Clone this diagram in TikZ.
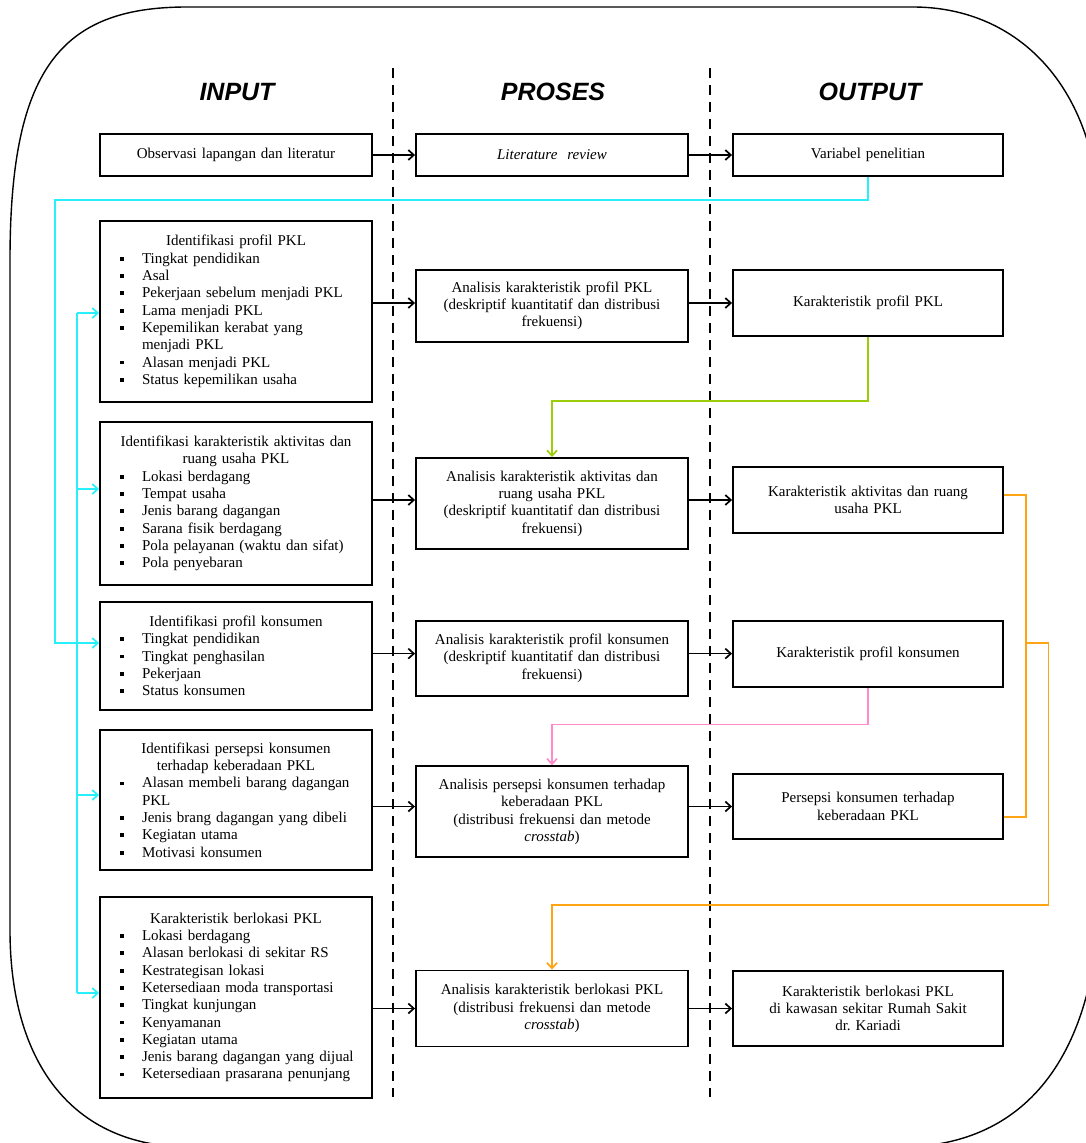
\documentclass[tikz,border=0pt]{standalone}
\usepackage{fontspec}
\setmainfont{Liberation Serif}
\newfontfamily\headfont{Liberation Sans}
\usepackage{xcolor}
\usepackage{tikz}
\usetikzlibrary{arrows.meta}
\definecolor{lineaqua}{RGB}{40,240,250}
\definecolor{linegreen}{RGB}{155,205,10}
\definecolor{linepink}{RGB}{255,140,200}
\definecolor{lineorange}{RGB}{255,165,20}
\newcommand{\itm}{\par\noindent\hangindent=36pt\hangafter=1\hspace*{14pt}\makebox[22pt][l]{\rule[2.6pt]{3.8pt}{3.8pt}}}
\newcommand{\boxtitle}[1]{{\centering #1\par}}

\begin{document}
\begin{tikzpicture}[x=1pt,y=-1pt,
  head/.style={font=\headfont\bfseries\itshape\fontsize{25}{30}\selectfont},
  inbox/.style={draw,line width=1.9pt,inner xsep=6pt,inner ysep=0pt,text width=260pt,
    font=\fontsize{15}{17.3}\selectfont,execute at begin node=\setlength{\baselineskip}{17.3pt}},
  midbox/.style={inbox,align=center},
  outbox/.style={midbox,text width=258pt},
  arr/.style={line width=1.7pt,-{Straight Barb[length=5.5pt,width=10pt]}},
  dashln/.style={line width=1.4pt,dash pattern=on 10pt off 7pt},
  aqua/.style={lineaqua,line width=2pt},
  green/.style={linegreen,line width=2pt},
  pink/.style={linepink,line width=2pt},
  orange/.style={lineorange,line width=2pt}]
  \useasboundingbox (0,0) rectangle (1086,1143);
  \clip (0,0) rectangle (1086,1143);
  \draw[line width=1.4pt] (187,7) -- (913,7) .. controls (1020,7) and (1100,90) .. (1100,230)
    -- (1100,880) .. controls (1100,1050) and (1030,1147) .. (900,1147) -- (190,1147)
    .. controls (70,1147) and (10,1060) .. (10,930) -- (10,260) .. controls (10,70) and (60,7) .. (187,7) -- cycle;
  \draw[dashln] (393,68) -- (393,1097);
  \draw[dashln] (710,68) -- (710,1097);
  \node[head] (hin) at (237,92) {INPUT};
  \node[head] (hpro) at (553,92) {PROSES};
  \node[head] (hout) at (870,92) {OUTPUT};

  \node[midbox,minimum height=42pt] (in0) at (236,155) {Observasi lapangan dan literatur};
  \node[midbox,minimum height=42pt] (pr0) at (552,155) {\textit{Literature\ \ review}};
  \node[outbox,minimum height=42pt] (out0) at (868,155) {Variabel penelitian};

  \node[inbox,minimum height=181pt] (in1) at (236,311.5) {\boxtitle{Identifikasi profil PKL}
    \itm Tingkat pendidikan \itm Asal \itm Pekerjaan sebelum menjadi PKL \itm Lama menjadi PKL
    \itm Kepemilikan kerabat yang\newline menjadi PKL \itm Alasan menjadi PKL \itm Status kepemilikan usaha};
  \node[midbox,minimum height=72pt] (pr1) at (552,306) {Analisis karakteristik profil PKL\\(deskriptif kuantitatif dan distribusi\\frekuensi)};
  \node[outbox,minimum height=66pt] (out1) at (868,303) {Karakteristik profil PKL};

  \node[inbox,minimum height=163pt] (in2) at (236,503.5) {\boxtitle{Identifikasi karakteristik aktivitas dan\par ruang usaha PKL}
    \itm Lokasi berdagang \itm Tempat usaha \itm Jenis barang dagangan \itm Sarana fisik berdagang
    \itm Pola pelayanan (waktu dan sifat) \itm Pola penyebaran};
  \node[midbox,minimum height=91pt] (pr2) at (552,503.5) {Analisis karakteristik aktivitas dan\\ruang usaha PKL\\(deskriptif kuantitatif dan distribusi\\frekuensi)};
  \node[outbox,minimum height=66pt] (out2) at (868,500) {Karakteristik aktivitas dan ruang\\usaha PKL};

  \node[inbox,minimum height=108pt] (in3) at (236,655.8) {\boxtitle{Identifikasi profil konsumen}
    \itm Tingkat pendidikan \itm Tingkat penghasilan \itm Pekerjaan \itm Status konsumen};
  \node[midbox,minimum height=75pt] (pr3) at (552,658.3) {Analisis karakteristik profil konsumen\\(deskriptif kuantitatif dan distribusi\\frekuensi)};
  \node[outbox,minimum height=66pt] (out3) at (868,653.6) {Karakteristik profil konsumen};

  \node[inbox,minimum height=140pt] (in4) at (236,800) {\boxtitle{Identifikasi persepsi konsumen\par terhadap keberadaan PKL}
    \itm Alasan membeli barang dagangan\newline PKL \itm Jenis brang dagangan yang dibeli
    \itm Kegiatan utama \itm Motivasi konsumen};
  \node[midbox,minimum height=91pt] (pr4) at (552,811.8) {Analisis persepsi konsumen terhadap\\keberadaan PKL\\(distribusi frekuensi dan metode\\\textit{crosstab})};
  \node[outbox,minimum height=65pt] (out4) at (868,806.5) {Persepsi konsumen terhadap\\keberadaan PKL};

  \node[inbox,minimum height=201pt] (in5) at (236,997.5) {\boxtitle{Karakteristik berlokasi PKL}
    \itm Lokasi berdagang \itm Alasan berlokasi di sekitar RS \itm Kestrategisan lokasi
    \itm Ketersediaan moda transportasi \itm Tingkat kunjungan \itm Kenyamanan \itm Kegiatan utama
    \itm Jenis barang dagangan yang dijual \itm Ketersediaan prasarana penunjang};
  \node[midbox,minimum height=76pt] (pr5) at (552,1008.5) {Analisis karakteristik berlokasi PKL\\(distribusi frekuensi dan metode\\\textit{crosstab})};
  \node[outbox,minimum height=75pt] (out5) at (868,1008.5) {Karakteristik berlokasi PKL\\di kawasan sekitar Rumah Sakit\\dr.\ Kariadi};

  \foreach \r in {0,...,5} {
    \draw[arr] (in\r.east |- out\r.west) -- (pr\r.west |- out\r.west);
    \draw[arr] (pr\r.east |- out\r.west) -- (out\r.west);
  }

  \coordinate (aquatop) at (55,200);
  \coordinate (bustop) at (77,313);
  \coordinate (busbot) at (77,993);
  \draw[aqua,arr] (out0.south) |- (aquatop) -- (55,643) -- (in3.west |- 0,643);
  \draw[aqua] (bustop) -- (busbot);
  \foreach \n/\y in {in1/313,in2/489,in4/795,in5/993}
    \draw[aqua,arr] (77,\y) -- (\n.west |- 0,\y);

  \draw[green,arr] (out1.south) -- ++(0,64) -| (pr2.north);
  \draw[pink,arr] (out3.south) -- ++(0,37) -| (pr4.north);
  \coordinate (orjoin) at (1026,643);
  \draw[orange] (out2.east |- 0,495) -| (1026,817) -- (out4.east |- 0,817);
  \draw[orange,arr] (orjoin) -| (1048.6,905) -| (pr5.north);
\end{tikzpicture}
\end{document}
